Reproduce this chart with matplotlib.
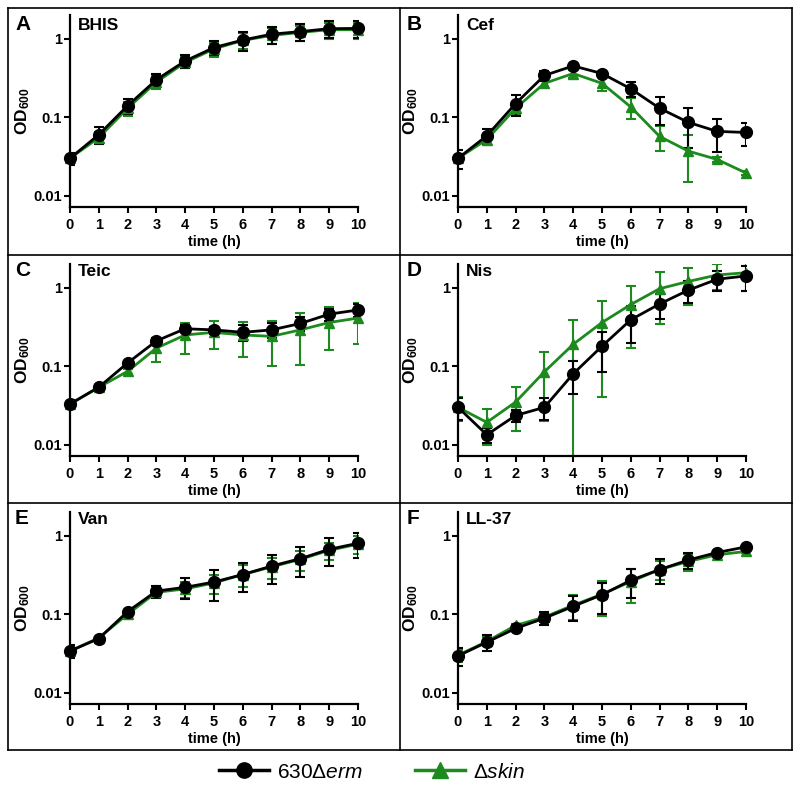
import matplotlib
matplotlib.use("Agg")
import matplotlib.pyplot as plt
from matplotlib.lines import Line2D

plt.rcParams['font.family'] = ['Liberation Sans', 'DejaVu Sans']
plt.rcParams['mathtext.fontset'] = 'custom'
plt.rcParams['mathtext.rm'] = 'Liberation Sans'
plt.rcParams['mathtext.it'] = 'Liberation Sans:italic'
plt.rcParams['mathtext.bf'] = 'Liberation Sans:bold'

time_h = [0, 1, 2, 3, 4, 5, 6, 7, 8, 9, 10]
panel_letters = ['A', 'B', 'C', 'D', 'E', 'F']
panel_titles = ['BHIS', 'Cef', 'Teic', 'Nis', 'Van', 'LL-37']
y_ticks = [0.01, 0.1, 1]
y_ticklabels = ['0.01', '0.1', '1']
series_names = ['630Δ$\\mathit{erm}$', 'Δ$\\mathit{skin}$']

# 630Δerm (black) means and SDs
bhis_wt = [0.030, 0.060, 0.140, 0.30, 0.52, 0.77, 0.96, 1.14, 1.23, 1.34, 1.35]
bhis_wt_sd = [0.005, 0.015, 0.030, 0.06, 0.10, 0.15, 0.26, 0.28, 0.30, 0.32, 0.32]
cef_wt = [0.030, 0.058, 0.149, 0.34, 0.45, 0.36, 0.23, 0.13, 0.086, 0.066, 0.064]
cef_wt_sd = [0.008, 0.012, 0.045, 0.05, 0.02, 0.02, 0.05, 0.05, 0.045, 0.030, 0.021]
teic_wt = [0.033, 0.054, 0.110, 0.21, 0.30, 0.29, 0.27, 0.29, 0.35, 0.46, 0.52]
teic_wt_sd = [0.004, 0.003, 0.008, 0.02, 0.03, 0.03, 0.06, 0.06, 0.07, 0.08, 0.10]
nis_wt = [0.030, 0.0134, 0.0236, 0.030, 0.080, 0.18, 0.39, 0.62, 0.93, 1.28, 1.41]
nis_wt_sd = [0.0095, 0.003, 0.004, 0.0095, 0.036, 0.095, 0.19, 0.22, 0.30, 0.37, 0.50]
van_wt = [0.034, 0.049, 0.108, 0.197, 0.22, 0.257, 0.32, 0.41, 0.51, 0.67, 0.80]
van_wt_sd = [0.006, 0.002, 0.006, 0.035, 0.065, 0.11, 0.13, 0.165, 0.21, 0.26, 0.28]
ll37_wt = [0.0295, 0.044, 0.066, 0.089, 0.126, 0.177, 0.27, 0.37, 0.49, 0.61, 0.72]
ll37_wt_sd = [0.0075, 0.010, 0.005, 0.017, 0.045, 0.075, 0.11, 0.13, 0.11, 0.03, 0.02]

# Δskin (green) means and SDs
bhis_skin = [0.030, 0.055, 0.130, 0.28, 0.50, 0.74, 0.95, 1.10, 1.20, 1.30, 1.30]
bhis_skin_sd = [0.004, 0.010, 0.025, 0.05, 0.08, 0.15, 0.22, 0.25, 0.27, 0.30, 0.30]
cef_skin = [0.030, 0.052, 0.130, 0.27, 0.36, 0.27, 0.135, 0.057, 0.037, 0.029, 0.0195]
cef_skin_sd = [0.004, 0.006, 0.020, 0.03, 0.04, 0.055, 0.04, 0.020, 0.022, 0.002, 0.001]
teic_skin = [0.033, 0.054, 0.086, 0.17, 0.25, 0.27, 0.25, 0.24, 0.29, 0.36, 0.41]
teic_skin_sd = [0.004, 0.003, 0.006, 0.058, 0.105, 0.105, 0.12, 0.14, 0.185, 0.20, 0.22]
nis_skin = [0.030, 0.0193, 0.035, 0.085, 0.19, 0.36, 0.61, 0.97, 1.20, 1.45, 1.55]
nis_skin_sd = [0.010, 0.0095, 0.020, 0.065, 0.20, 0.32, 0.44, 0.63, 0.60, 0.53, 0.65]
van_skin = [0.034, 0.050, 0.100, 0.190, 0.21, 0.25, 0.32, 0.40, 0.50, 0.65, 0.78]
van_skin_sd = [0.005, 0.002, 0.006, 0.020, 0.05, 0.07, 0.10, 0.12, 0.14, 0.16, 0.20]
ll37_skin = [0.030, 0.045, 0.072, 0.092, 0.130, 0.180, 0.26, 0.37, 0.47, 0.57, 0.63]
ll37_skin_sd = [0.005, 0.006, 0.004, 0.010, 0.045, 0.085, 0.12, 0.10, 0.12, 0.04, 0.02]

wt_means = [bhis_wt, cef_wt, teic_wt, nis_wt, van_wt, ll37_wt]
wt_sds = [bhis_wt_sd, cef_wt_sd, teic_wt_sd, nis_wt_sd, van_wt_sd, ll37_wt_sd]
skin_means = [bhis_skin, cef_skin, teic_skin, nis_skin, van_skin, ll37_skin]
skin_sds = [bhis_skin_sd, cef_skin_sd, teic_skin_sd, nis_skin_sd, van_skin_sd, ll37_skin_sd]

BLACK = '#000000'
GREEN = '#1c8a1c'

W, H = 800, 788
fig = plt.figure(figsize=(8, 7.88), dpi=100)

col_left = [70, 458]
ax_w = 288
ax_h = 192
row_bottom = [207, 456, 704]
box_tops = [8, 255, 503]

for i in range(6):
    r, c = divmod(i, 2)
    left = col_left[c]
    bottom = row_bottom[r]
    ax = fig.add_axes([left / W, 1 - bottom / H, ax_w / W, ax_h / H])
    ax.set_yscale('log')
    ax.set_xlim(0, 10)
    ax.set_ylim(0.0072, 2.0)
    for mean, sd, col, mk in [(skin_means[i], skin_sds[i], GREEN, '^'),
                              (wt_means[i], wt_sds[i], BLACK, 'o')]:
        ax.errorbar(time_h, mean, yerr=sd, fmt='none', ecolor=col,
                    elinewidth=1.5, capsize=3.5, capthick=1.5, zorder=2)
        ax.plot(time_h, mean, color=col, lw=2, marker=mk, ms=8.5 if mk == 'o' else 7,
                mec=col, mfc=col, clip_on=False, zorder=3)
    for s in ['top', 'right']:
        ax.spines[s].set_visible(False)
    for s in ['left', 'bottom']:
        ax.spines[s].set_linewidth(1.6)
    ax.set_yticks(y_ticks)
    ax.set_yticklabels(y_ticklabels)
    ax.minorticks_off()
    ax.set_xticks(time_h)
    ax.set_xticklabels([str(t) for t in time_h])
    ax.tick_params(direction='out', length=4, width=1.5, labelsize=10.5)
    ax.tick_params(axis='x', pad=4)
    ax.tick_params(axis='y', pad=2)
    for lab in ax.get_xticklabels() + ax.get_yticklabels():
        lab.set_fontweight('bold')
    ax.set_xlabel('time (h)', fontsize=10.5, fontweight='bold', labelpad=2)
    ax.set_ylabel(r'$\mathbf{OD}_{\mathbf{600}}$', fontsize=12.5, labelpad=1)
    # panel letter and title
    box_left = 8 if c == 0 else 400
    fig.text((box_left + 7) / W, 1 - (box_tops[r] + 16) / H, panel_letters[i],
             fontsize=15, fontweight='bold', va='center', ha='left')
    fig.text((left + 8) / W, 1 - (box_tops[r] + 17) / H, panel_titles[i],
             fontsize=12.5, fontweight='bold', va='center', ha='left')

# panel boxes
def fline(x0, y0, x1, y1):
    fig.add_artist(Line2D([x0 / W, x1 / W], [1 - y0 / H, 1 - y1 / H],
                          color='black', lw=1.2, transform=fig.transFigure))

fline(8, 8, 792, 8)
fline(8, 750, 792, 750)
fline(8, 8, 8, 750)
fline(792, 8, 792, 750)
fline(400, 8, 400, 750)
fline(8, 255, 792, 255)
fline(8, 503, 792, 503)

handles = [Line2D([], [], color=BLACK, lw=2.5, marker='o', ms=11),
           Line2D([], [], color=GREEN, lw=2.5, marker='^', ms=12)]
fig.legend(handles, series_names, loc='center', bbox_to_anchor=(0.465, 1 - 772 / H),
           ncol=2, frameon=False, fontsize=15, handlelength=2.4,
           columnspacing=2.5, handletextpad=0.4)

fig.savefig('out.png', dpi=100)
